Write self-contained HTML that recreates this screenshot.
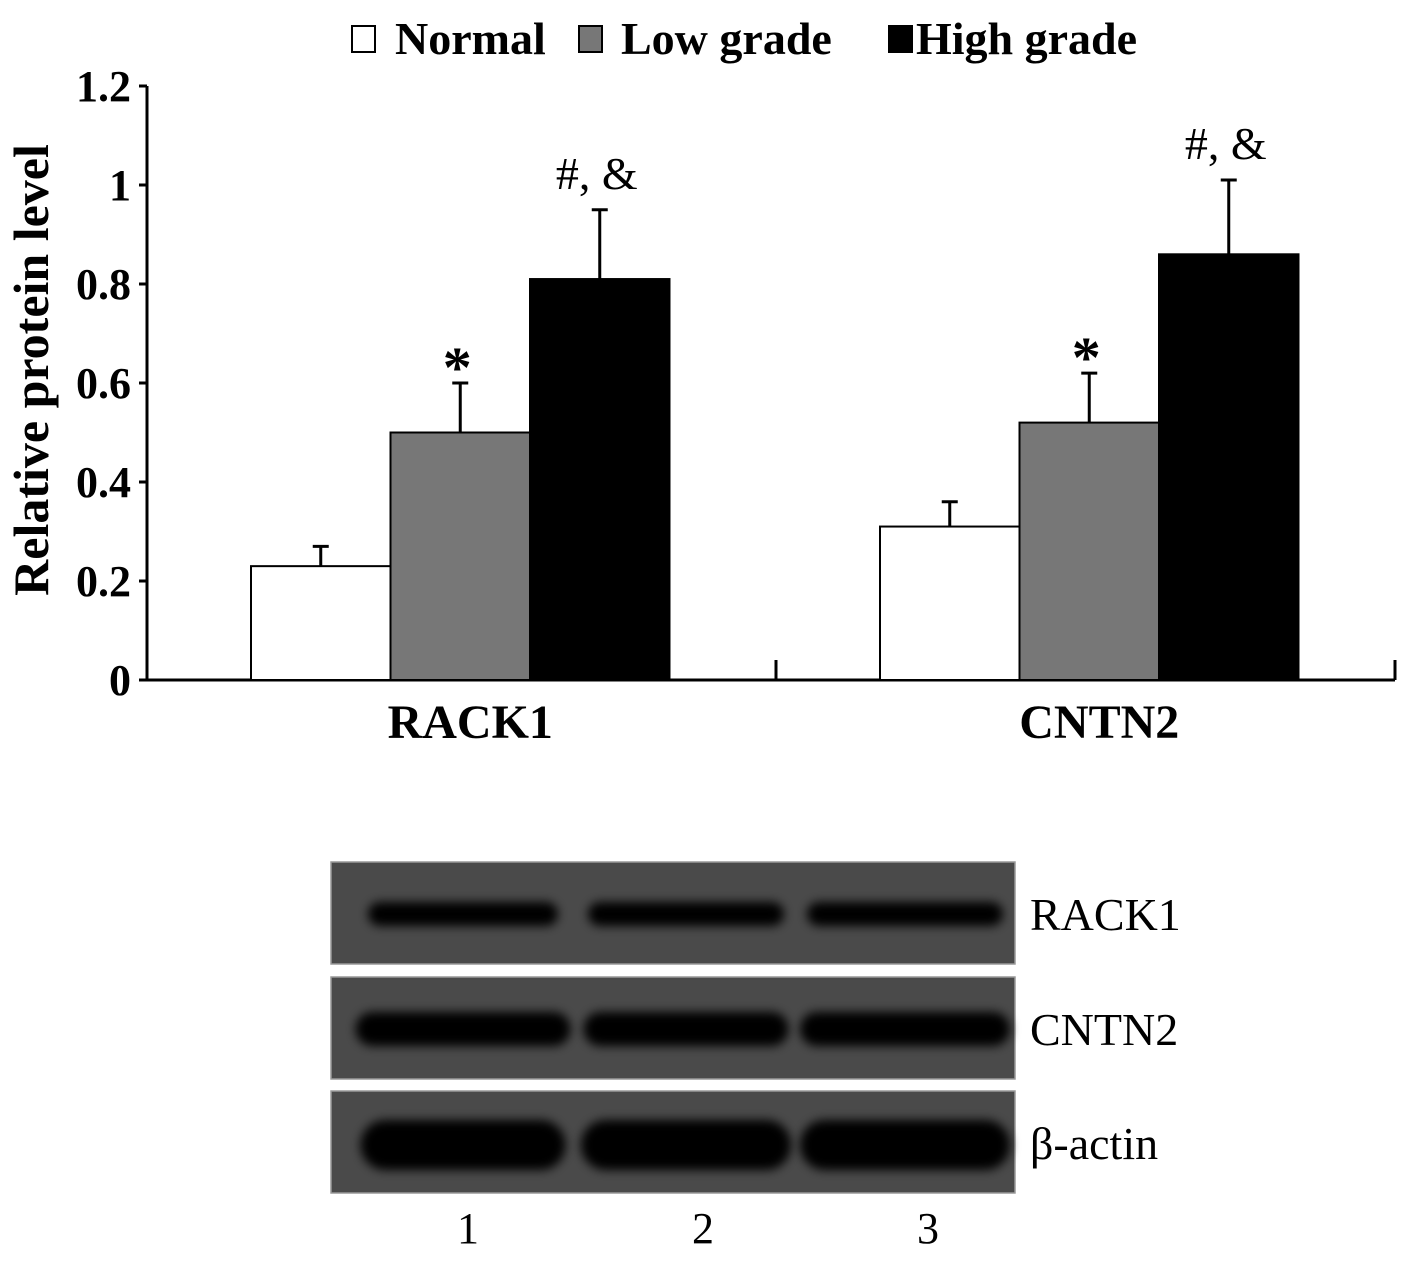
<!DOCTYPE html>
<html><head><meta charset="utf-8"><style>
body{margin:0;background:#fff;width:1417px;height:1263px;overflow:hidden;font-family:"Liberation Serif",serif}
</style></head><body>
<svg width="1417" height="1263" viewBox="0 0 1417 1263">
<defs><filter id="blur" x="-20%" y="-80%" width="140%" height="260%"><feGaussianBlur stdDeviation="5"/></filter></defs>
<g id="chart"></g>
<g id="blot"></g>
</svg>
<script>
const categories=["RACK1","CNTN2"];
const seriesNames=["Normal","Low grade","High grade"];
const seriesColors=["#ffffff","#777777","#000000"];
const normalVals=[0.23,0.31];
const lowVals=[0.50,0.52];
const highVals=[0.81,0.86];
const normalErr=[0.04,0.05];
const lowErr=[0.10,0.10];
const highErr=[0.14,0.15];
const yTicks=[0,0.2,0.4,0.6,0.8,1,1.2];
const yTickLabels=["0","0.2","0.4","0.6","0.8","1","1.2"];
const annotations=[["","*","#, &"],["","*","#, &"]];
const blotRows=["RACK1","CNTN2","β-actin"];
const laneLabels=["1","2","3"];

const NS="http://www.w3.org/2000/svg";
function mk(tag,attrs,parent,text){const e=document.createElementNS(NS,tag);for(const k in attrs)e.setAttribute(k,attrs[k]);if(text!==undefined)e.textContent=text;parent.appendChild(e);return e;}
const chart=document.getElementById('chart');
const X0=147,X1=1395,Y0=680,YT=86;
const y=v=>Y0-(v/1.2)*(Y0-YT);
const groupW=629;
const barW=139.5,barOff=104;
const x=(g,s)=>X0+g*groupW+barOff+s*barW;

let e=mk('line',{x1:X0,y1:YT,x2:X0,y2:Y0,stroke:'#000','stroke-width':3},chart);

e=mk('line',{x1:X0,y1:Y0,x2:X1,y2:Y0,stroke:'#000','stroke-width':3},chart);

yTicks.forEach((t,i)=>{
  e=mk('line',{x1:X0-8,y1:y(t),x2:X0,y2:y(t),stroke:'#000','stroke-width':3},chart);
  
  e=mk('text',{x:131,y:y(t)+15,'text-anchor':'end','font-size':44,'font-weight':'bold'},chart,yTickLabels[i]);
  
});
[X0+groupW,X1].forEach(tx=>{
  e=mk('line',{x1:tx,y1:Y0,x2:tx,y2:Y0-20,stroke:'#000','stroke-width':3},chart);
  
});
e=mk('text',{x:0,y:0,transform:'translate(48,370) rotate(-90)','text-anchor':'middle','font-size':50,'font-weight':'bold'},chart,'Relative protein level');


const vals=[normalVals,lowVals,highVals],errs=[normalErr,lowErr,highErr];
categories.forEach((c,g)=>{
  e=mk('text',{x:x(g,1.5)+10,y:738,'text-anchor':'middle','font-size':48,'font-weight':'bold'},chart,c);
  
  for(let s=0;s<3;s++){
    const v=vals[s][g],er=errs[s][g],bx=x(g,s),cx=bx+barW/2;
    e=mk('line',{x1:cx,y1:y(v),x2:cx,y2:y(v+er),stroke:'#000','stroke-width':3},chart);
    
    e=mk('line',{x1:cx-8,y1:y(v+er),x2:cx+8,y2:y(v+er),stroke:'#000','stroke-width':3},chart);
    
    e=mk('rect',{x:bx,y:y(v),width:barW,height:Y0-y(v),fill:seriesColors[s],stroke:'#000','stroke-width':2},chart);
    
    const a=annotations[g][s];
    if(a){
      const isStar=a==='*';
      e=mk('text',{x:cx-3,y:isStar?y(v+er)+4:y(v+er)-21,'text-anchor':'middle','font-size':isStar?58:46,'font-weight':isStar?'bold':'normal'},chart,a);
      
    }
  }
});
const legX=[352,579,889];
const legTextX=[395,621,916];
seriesNames.forEach((n,i)=>{
  const lg=mk('g',{},chart);
  
  mk('rect',{x:legX[i],y:26,width:23,height:26,fill:seriesColors[i],stroke:'#000','stroke-width':2},lg);
  mk('text',{x:legTextX[i],y:54,'font-size':46,'font-weight':'bold'},lg,n);
});
const blot=document.getElementById('blot');
const panelY=[862,977,1091],panelH=102;
const bandH=[24,34,50];
const bandW=[[190,196,196],[215,205,210],[205,210,210]];
const bandCX=[463,686,905];
const bandDY=[52,52,54];
blotRows.forEach((r,i)=>{
  e=mk('rect',{x:331,y:panelY[i],width:684,height:panelH,fill:'#4a4a4a',stroke:'#999','stroke-width':1.5},blot);
  
  for(let l=0;l<3;l++){
    e=mk('rect',{x:bandCX[l]-bandW[i][l]/2,y:panelY[i]+bandDY[i]-bandH[i]/2,width:bandW[i][l],height:bandH[i],rx:bandH[i]/2,fill:'#050505',filter:'url(#blur)'},blot);
    
  }
  e=mk('text',{x:1030,y:panelY[i]+68,'font-size':46},blot,r);
  
});
const laneX=[468,703,928];
laneLabels.forEach((l,i)=>{
  e=mk('text',{x:laneX[i],y:1243,'text-anchor':'middle','font-size':44},blot,l);
  
});
</script>
</body></html>
